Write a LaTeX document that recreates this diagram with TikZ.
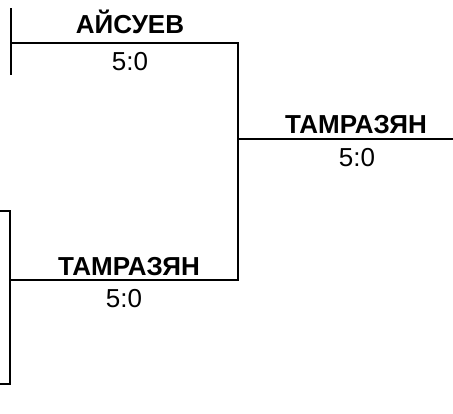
\documentclass[tikz,border=0pt]{standalone}
\usepackage{fontspec}
\setmainfont{Liberation Sans}
\begin{document}
\begin{tikzpicture}[x=1pt,y=-1pt,line width=1.1pt,
       player/.style={font=\bfseries\fontsize{26}{26}\selectfont,anchor=base,inner sep=0pt},
	   score/.style={font=\fontsize{26}{26}\selectfont,anchor=base,inner sep=0pt}]
   \useasboundingbox (0,0) rectangle (453,413);
   % upper match
   \coordinate (u1) at (11,8);
   \coordinate (u2) at (11,75);
   \coordinate (u3) at (11,43);
   \coordinate (u4) at (238,43);
   \node [player] (aisuev) at (130,33) {АЙСУЕВ};
   \node [score] (s1) at (130,70) {5:0};
   % lower match
   \coordinate (l1) at (0,211);
   \coordinate (l2) at (10,211);
   \coordinate (l3) at (10,384);
   \coordinate (l4) at (0,384);
   \coordinate (l5) at (10,280);
   \coordinate (l6) at (238,280);
   \node [player] (tamr1) at (129,275) {ТАМРАЗЯН};
   \node [score] (s2) at (124,307) {5:0};
   % final
   \coordinate (f1) at (238,139);
   \coordinate (f2) at (453,139);
   \node [player] (tamr2) at (356,133) {ТАМРАЗЯН};
   \node [score] (s3) at (357,166) {5:0};
   \draw (u1) -- (u2);
   \draw (u3) -- (u4) -- (l6) -- (l5);
   \draw (l1) -- (l2) -- (l3) -- (l4);
   \draw (f1) -- (f2);
\end{tikzpicture}
\end{document}
